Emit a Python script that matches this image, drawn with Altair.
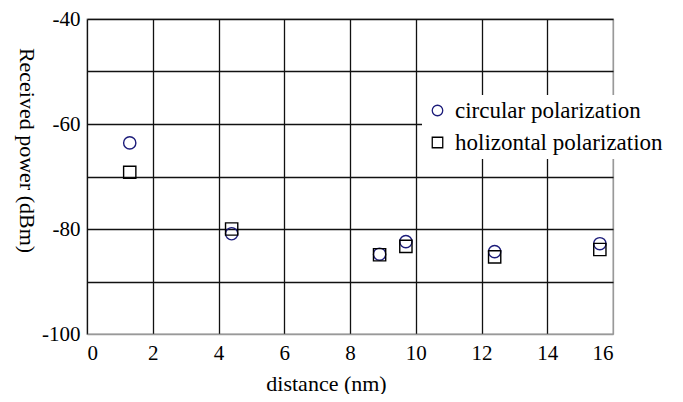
import altair as alt
import pandas as pd

series_names = ["circular polarization", "holizontal polarization"]
distance = [1.3, 4.4, 8.9, 9.7, 12.4, 15.6]
power_circular = [-63.6, -80.9, -84.8, -82.4, -84.3, -82.8]
power_horizontal = [-69.2, -80.0, -84.9, -83.3, -85.3, -83.9]

x_ticks = [0, 2, 4, 6, 8, 10, 12, 14, 16]
y_ticks = [-100, -90, -80, -70, -60, -50, -40]

rows = []
for d, p in zip(distance, power_circular):
    rows.append({"distance": d, "power": p, "series": series_names[0]})
for d, p in zip(distance, power_horizontal):
    rows.append({"distance": d, "power": p, "series": series_names[1]})
df = pd.DataFrame(rows)

FONT = "Liberation Serif"

legend_cfg = dict(title=None, orient="none", legendX=335, legendY=76,
                  fillColor="white", padding=4, rowPadding=8,
                  symbolSize=110, symbolStrokeWidth=1.3,
                  labelFont=FONT, labelFontSize=23, labelColor="black",
                  labelOffset=6, labelLimit=400)

chart = alt.Chart(df).mark_point(filled=False, size=150, strokeWidth=1.4, opacity=1).encode(
    x=alt.X("distance:Q",
            scale=alt.Scale(domain=[0, 16], nice=False, zero=False),
            axis=alt.Axis(values=x_ticks, title="distance (nm)", format="d",
                          labelExpr="'' + datum.value",
                          gridColor=alt.condition("datum.value == 16", alt.value("#999999"), alt.value("#111111")),
                          titleX=239, titleY=56, titleAnchor="middle",
                          titleBaseline="alphabetic")),
    y=alt.Y("power:Q",
            scale=alt.Scale(domain=[-100, -40], nice=False, zero=False),
            axis=alt.Axis(values=y_ticks, title="Received power (dBm)",
                          labelExpr="(datum.value % 20 == 0) ? ('' + datum.value) : ''",
                          gridColor=alt.condition("datum.value == -100", alt.value("#999999"), alt.value("#111111")),
                          titleAngle=90, titleX=-61, titleY=131, titleAnchor="middle",
                          titleBaseline="middle")),
    shape=alt.Shape("series:N",
                    scale=alt.Scale(domain=series_names, range=["circle", "square"]),
                    legend=alt.Legend(**legend_cfg)),
    stroke=alt.Stroke("series:N",
                      scale=alt.Scale(domain=series_names, range=["#1c1c7a", "#000000"]),
                      legend=alt.Legend(**legend_cfg)),
).properties(
    width=526,
    height=315,
    background="white",
    autosize=alt.AutoSizeParams(type="none"),
    padding={"left": 79, "top": 11, "right": 62, "bottom": 60},
).configure_view(
    stroke="#999999", strokeWidth=1.3, fill="white"
).configure_axis(
    grid=True, gridWidth=1.3, gridOpacity=1,
    domain=False, ticks=False,
    labelFont=FONT, labelFontSize=21, labelColor="black",
    titleFont=FONT, titleFontSize=22, titleFontWeight="normal", titleColor="black",
).configure_axisX(
    labelPadding=8
).configure_axisY(
    labelPadding=7
)

chart.save("out.html", embed_options={"renderer": "svg", "actions": False})
